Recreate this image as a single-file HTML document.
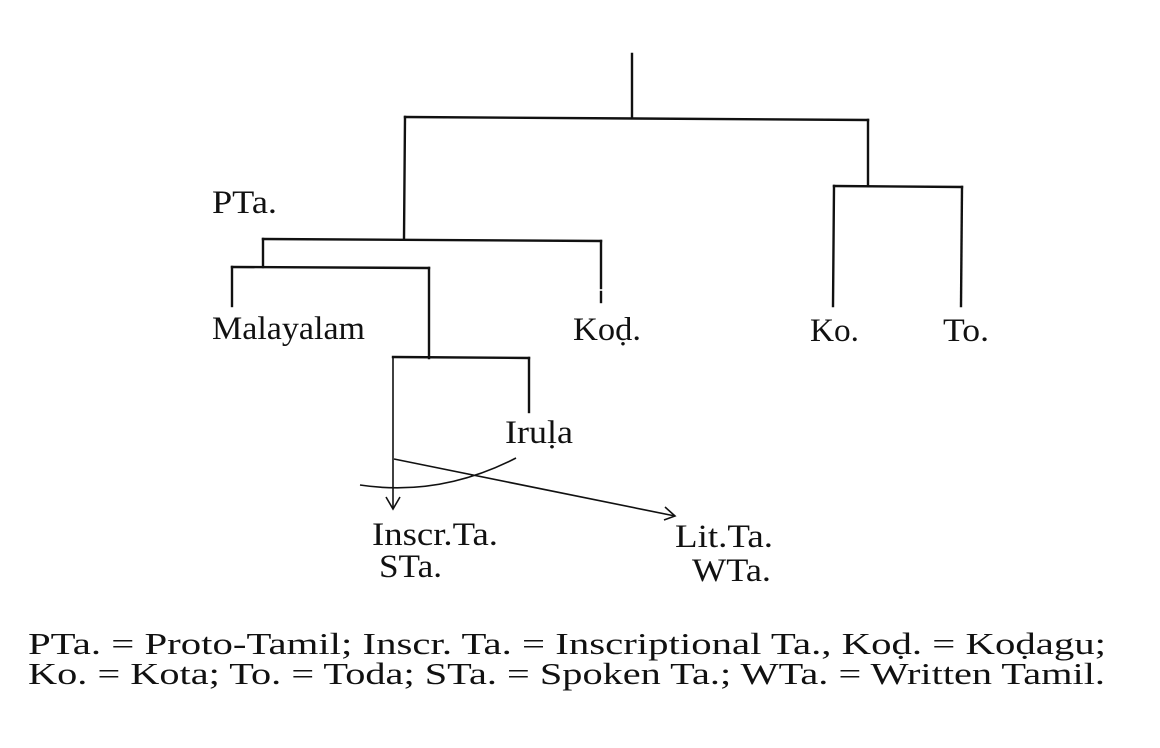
<!DOCTYPE html>
<html><head><meta charset="utf-8"><style>
html,body{margin:0;padding:0;background:#fff;}
svg{display:block;}
text{font-family:"Liberation Serif",serif;fill:#111;}
</style></head><body>
<svg width="1160" height="748" viewBox="0 0 1160 748" xmlns="http://www.w3.org/2000/svg">
<g stroke="#111" stroke-width="2.4" fill="none" stroke-linecap="square">
<line x1="632" y1="54" x2="632" y2="117"/>
<polyline points="405,117 868,120"/>
<polyline points="405,117 404,238"/>
<polyline points="868,120 868,186"/>
<polyline points="834,186 962,187"/>
<polyline points="834,186 833,306"/>
<polyline points="962,187 961,306"/>
<polyline points="263,239 601,241"/>
<polyline points="601,241 601,288"/>
<polyline points="601,292 601,302"/>
<polyline points="263,239 263,267"/>
<polyline points="232,267 429,268"/>
<polyline points="232,267 232,306"/>
<polyline points="429,268 429,358"/>
<polyline points="393,357 529,358"/>
<polyline points="529,358 529,412"/>
</g>
<g stroke="#111" stroke-width="1.6" fill="none">
<line x1="393" y1="357" x2="393" y2="509"/>
<polyline points="386,497 393,509 400,497"/>
<line x1="394" y1="459" x2="675" y2="516"/>
<polyline points="665,507 675,516 664,520"/>
<path d="M360,485 Q440,497 516,458"/>
</g>
<g font-size="33">
<text x="212" y="213" textLength="65" lengthAdjust="spacingAndGlyphs">PTa.</text>
<text x="212" y="339" textLength="153" lengthAdjust="spacingAndGlyphs">Malayalam</text>
<text x="573" y="340" textLength="68" lengthAdjust="spacingAndGlyphs">Koḍ.</text>
<text x="810" y="341" textLength="49" lengthAdjust="spacingAndGlyphs">Ko.</text>
<text x="943" y="341" textLength="46" lengthAdjust="spacingAndGlyphs">To.</text>
<text x="505" y="443" textLength="68" lengthAdjust="spacingAndGlyphs">Iruḷa</text>
<text x="372" y="545" textLength="126" lengthAdjust="spacingAndGlyphs">Inscr.Ta.</text>
<text x="379" y="577" textLength="63" lengthAdjust="spacingAndGlyphs">STa.</text>
<text x="675" y="547" textLength="98" lengthAdjust="spacingAndGlyphs">Lit.Ta.</text>
<text x="692" y="581" textLength="79" lengthAdjust="spacingAndGlyphs">WTa.</text>
</g>
<g font-size="31">
<text x="28" y="654" textLength="1078" lengthAdjust="spacingAndGlyphs">PTa. = Proto-Tamil; Inscr. Ta. = Inscriptional Ta., Koḍ. = Koḍagu;</text>
<text x="28" y="684" textLength="1077" lengthAdjust="spacingAndGlyphs">Ko. = Kota; To. = Toda; STa. = Spoken Ta.; WTa. = Written Tamil.</text>
</g>
</svg>
</body></html>
